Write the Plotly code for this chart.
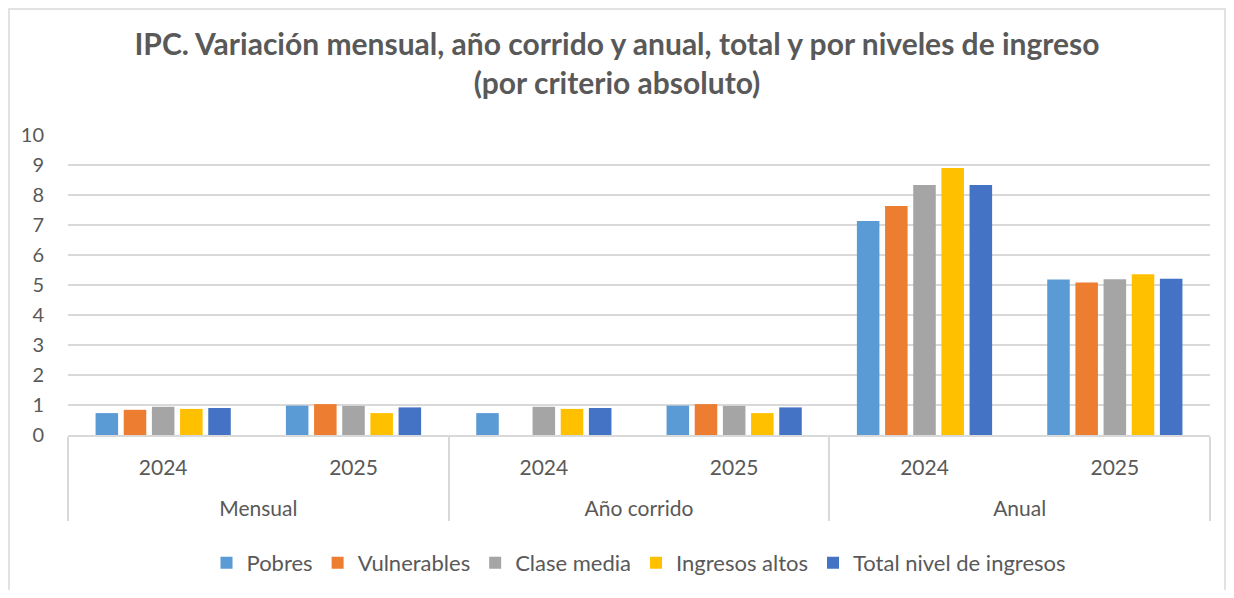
import plotly.graph_objects as go

groups = ["Mensual", "Mensual", "Año corrido", "Año corrido", "Anual", "Anual"]
years = ["2024", "2025", "2024", "2025", "2024", "2025"]

series_names = ["Pobres", "Vulnerables", "Clase media", "Ingresos altos", "Total nivel de ingresos"]
pobres = [0.73, 0.98, 0.73, 0.98, 7.13, 5.18]
vulnerables = [0.84, 1.03, None, 1.03, 7.63, 5.08]
clase_media = [0.94, 0.97, 0.94, 0.97, 8.33, 5.19]
ingresos_altos = [0.87, 0.73, 0.87, 0.73, 8.90, 5.36]
total = [0.90, 0.92, 0.90, 0.92, 8.33, 5.21]

colors = ["#5B9BD5", "#ED7D31", "#A5A5A5", "#FFC000", "#4472C4"]
values = [pobres, vulnerables, clase_media, ingresos_altos, total]

FONT = "Lato, Carlito, Calibri, sans-serif"
GRAY = "#595959"

year_labels = [y + "<br> " for y in years]

fig = go.Figure()
for name, vals, col in zip(series_names, values, colors):
    fig.add_trace(go.Bar(
        x=[groups, year_labels], y=vals, name=name,
        marker=dict(color=col, line=dict(width=0)),
    ))

W, H = 1218, 582
L, R, T, B = 60, 16, 127, 155
fig.update_layout(
    width=W, height=H,
    paper_bgcolor="white", plot_bgcolor="white",
    margin=dict(l=L, r=R, t=T, b=B),
    barmode="group", bargap=0.26, bargroupgap=0.2,
    font=dict(family=FONT, color=GRAY, size=20),
    title=dict(
        text="IPC. Variación mensual, año corrido y anual, total y por niveles de ingreso<br>(por criterio absoluto)",
        x=0.5, xanchor="center", yref="container", y=1 - 47 / H, yanchor="top",
        font=dict(family=FONT, size=30, color=GRAY, weight="bold"),
    ),
    legend=dict(
        orientation="h", x=0.5, xanchor="center",
        yref="container", y=1 - 555 / H, yanchor="middle",
        font=dict(family=FONT, size=22, color=GRAY),
        traceorder="normal",
    ),
    showlegend=True,
)
fig.update_yaxes(
    range=[0, 10], dtick=1, showgrid=True, gridcolor="#D9D9D9", gridwidth=1.5,
    zeroline=False, showline=False, ticks="", ticklabelstandoff=23, automargin=False,
    tickfont=dict(family=FONT, size=20, color=GRAY),
)
fig.update_xaxes(
    type="multicategory", showline=True, linecolor="#D9D9D9", linewidth=1.5,
    showdividers=True, dividercolor="#D9D9D9", dividerwidth=1.5, automargin=False,
    ticks="", ticklabelstandoff=13, tickfont=dict(family=FONT, size=21, color=GRAY),
)
pw, ph = W - L - R, H - T - B
fig.add_shape(
    type="rect", xref="paper", yref="paper",
    x0=-(L - 1) / pw, x1=(W - L - 1) / pw, y0=-(B + 20) / ph, y1=(ph + T - 1) / ph,
    line=dict(color="#D9D9D9", width=1.5), fillcolor="rgba(0,0,0,0)", layer="below",
)
fig.write_html("out.html")
